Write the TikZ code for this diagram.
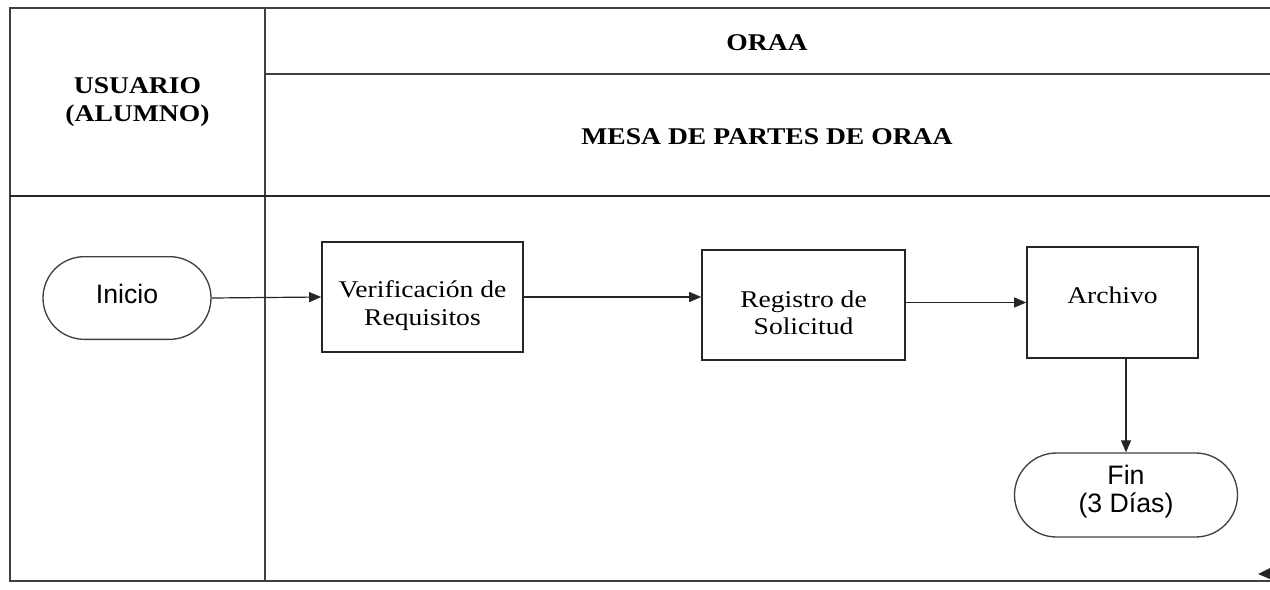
\documentclass[tikz,border=0pt]{standalone}
\usepackage{fontspec}
\setmainfont{Liberation Serif}[FakeStretch=1.15]
\newfontfamily\arial{Liberation Sans}
\usetikzlibrary{arrows.meta,shapes.misc}

\begin{document}
\begin{tikzpicture}[x=.75pt,y=-.75pt,
 linea/.style={line width=1.4pt,draw=black!75},
 caja/.style={draw=black!85,line width=1.2pt,align=center,inner sep=0pt,
  font=\fontsize{18}{20.5}\selectfont},
 term/.style={draw=black!75,line width=1pt,rounded rectangle,align=center,
  inner sep=0pt,font=\arial\fontsize{20}{20.3}\selectfont},
 cab/.style={align=center,font=\bfseries\fontsize{18}{21}\selectfont}]
 \useasboundingbox (0,0) rectangle (1270,589);
 \draw[linea]
 (1270,8)--(10,8)--(10,581)--(1270,581)
 (265,8)--(265,581) (265,74)--(1270,74);
 \draw[linea,line width=2.2pt,draw=black!85] (10,196)--(1270,196);
 \path
 (137.5,102) node[cab] (usu) {USUARIO\\(ALUMNO)} % <<< cabecera
 (767,43) node[cab] (oraa) {ORAA}
 (767,137) node[cab] (mesa) {MESA DE PARTES DE ORAA}
 (127,298) node[term,minimum width=126pt,minimum height=62pt,
  text height=12pt,text depth=4.5pt] (ini) {Inicio} % <<< flujo
 (422.5,297) node[caja,minimum width=150.75pt,minimum height=82.5pt,
  text height=42pt,text depth=0pt] (ver) {Verificación de\\Requisitos}
 (803.5,305) node[caja,minimum width=152.25pt,minimum height=82.5pt,
  text height=44pt,text depth=0pt] (reg) {Registro de\\Solicitud}
 (1112.5,302.5) node[caja,minimum width=128.25pt,minimum height=83.25pt,
  text height=13pt,text depth=12.25pt] (arc) {Archivo}
 (1126,495) node[term,minimum width=167.25pt,minimum height=63pt,
  text height=25.5pt,text depth=0pt] (fin) {Fin\\(3 Días)};
 \begin{scope}[-{Triangle[length=9pt,width=7.5pt]},line width=.9pt,black!85]
 \draw (ini.east)--(ver.west);
 \draw (ver.east)--(reg.west|-ver.east);
 \draw (arc.west-|reg.east)--(arc.west);
 \draw (fin.north|-arc.south)--(fin.north);
 \end{scope}
 \fill[black!85] (1258,574)--(1270,568)--(1270,579)--cycle;
\end{tikzpicture}
\end{document}
